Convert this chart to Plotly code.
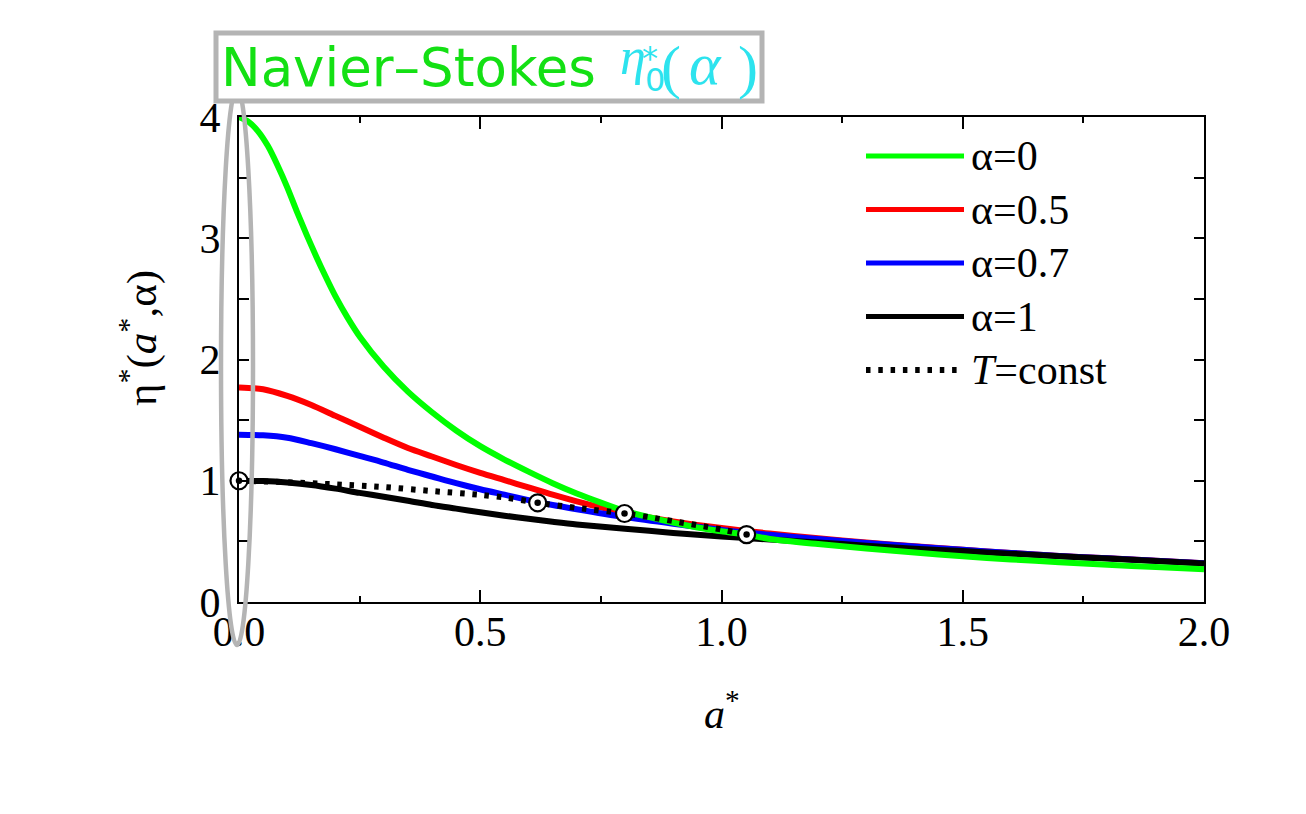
import plotly.graph_objects as go

# ---------------- data ----------------
a_alpha0 = [0, 0.02, 0.04, 0.06, 0.08, 0.10, 0.12, 0.14, 0.16, 0.18, 0.20, 0.225, 0.25, 0.30, 0.35, 0.40, 0.45,
            0.50, 0.55, 0.60, 0.65, 0.70, 0.75, 0.80, 0.85, 0.90, 0.95, 1.0, 1.05, 1.1, 1.2, 1.3, 1.4, 1.5, 1.6,
            1.7, 1.8, 1.9, 2.0]
eta_alpha0 = [4.0, 3.96, 3.88, 3.76, 3.60, 3.42, 3.22, 3.03, 2.85, 2.68, 2.52, 2.345, 2.19, 1.94, 1.735, 1.565,
              1.415, 1.285, 1.175, 1.075, 0.98, 0.895, 0.82, 0.75, 0.70, 0.655, 0.615, 0.583, 0.556, 0.52, 0.478,
              0.442, 0.408, 0.377, 0.351, 0.328, 0.307, 0.288, 0.27]

a_alpha05 = [0, 0.05, 0.1, 0.15, 0.2, 0.25, 0.3, 0.35, 0.4, 0.45, 0.5, 0.55, 0.6, 0.65, 0.7, 0.75, 0.8, 0.9, 1.0,
             1.1, 1.2, 1.3, 1.4, 1.5, 1.6, 1.7, 1.8, 1.9, 2.0]
eta_alpha05 = [1.77, 1.755, 1.70, 1.625, 1.535, 1.445, 1.355, 1.27, 1.20, 1.13, 1.065, 1.005, 0.945, 0.885, 0.83,
               0.78, 0.735, 0.665, 0.61, 0.565, 0.525, 0.49, 0.46, 0.43, 0.405, 0.38, 0.36, 0.34, 0.32]

a_alpha07 = [0, 0.05, 0.1, 0.15, 0.2, 0.25, 0.3, 0.35, 0.4, 0.45, 0.5, 0.55, 0.6, 0.65, 0.7, 0.8, 0.9, 1.0, 1.1,
             1.2, 1.3, 1.4, 1.5, 1.6, 1.7, 1.8, 1.9, 2.0]
eta_alpha07 = [1.38, 1.375, 1.355, 1.31, 1.26, 1.205, 1.15, 1.09, 1.035, 0.98, 0.93, 0.885, 0.84, 0.80, 0.765, 0.70,
               0.645, 0.595, 0.555, 0.52, 0.487, 0.457, 0.43, 0.405, 0.38, 0.36, 0.34, 0.32]

a_alpha1 = [0, 0.05, 0.1, 0.15, 0.2, 0.25, 0.3, 0.35, 0.4, 0.45, 0.5, 0.55, 0.6, 0.65, 0.7, 0.8, 0.9, 1.0, 1.1,
            1.2, 1.3, 1.4, 1.5, 1.6, 1.7, 1.8, 1.9, 2.0]
eta_alpha1 = [1.0, 0.997, 0.985, 0.965, 0.935, 0.90, 0.868, 0.835, 0.80, 0.77, 0.74, 0.712, 0.686, 0.662, 0.64,
              0.605, 0.57, 0.54, 0.515, 0.49, 0.465, 0.44, 0.42, 0.398, 0.378, 0.358, 0.338, 0.317]

a_Tconst = [0, 0.1, 0.2, 0.3, 0.4, 0.5, 0.55, 0.6, 0.62, 0.7, 0.8, 0.85, 0.9, 0.95, 1.0, 1.052]
eta_Tconst = [1.0, 0.988, 0.97, 0.948, 0.915, 0.884, 0.862, 0.832, 0.818, 0.776, 0.73, 0.70, 0.667, 0.633, 0.598, 0.556]

a_marks = [0, 0.619, 0.799, 1.052]
eta_marks = [1.0, 0.818, 0.73, 0.556]

x_tickvals = [0, 0.5, 1.0, 1.5, 2.0]
x_ticktext = ["0.0", "0.5", "1.0", "1.5", "2.0"]
y_tickvals = [0, 1, 2, 3, 4]
y_ticktext = ["0", "1", "2", "3", "4"]

legend_labels = ["α=0", "α=0.5", "α=0.7", "α=1", "<i>T</i>=const"]
legend_colors = ["#00ff00", "#ff0000", "#0000ff", "#000000", "#000000"]
legend_dash = ["solid", "solid", "solid", "solid", "4.5px,7.8px"]

# ---------------- layout geometry ----------------
# the page body adds an 8 px offset; helpers take reference screen pixels
OFF = 8
W, H = 1298, 806
L, T = 231, 109
R = W - 1196
B = H - 594
PW, PH = W - L - R, H - T - B


def px(sx):
    return (sx - OFF - L) / PW


def py(sy):
    return (H - B - (sy - OFF)) / PH


SERIF = "Liberation Serif"
LW = 6
CYAN = "#2de3ee"

fig = go.Figure()
series = [
    (a_alpha05, eta_alpha05, "#ff0000"),
    (a_alpha07, eta_alpha07, "#0000ff"),
    (a_alpha1, eta_alpha1, "#000000"),
    (a_alpha0, eta_alpha0, "#00ff00"),
]
for xs, ys, c in series:
    fig.add_trace(go.Scatter(x=xs, y=ys, mode="lines", line=dict(color=c, width=LW, shape="spline", smoothing=0.8),
                             showlegend=False, hoverinfo="skip"))
fig.add_trace(go.Scatter(x=a_Tconst, y=eta_Tconst, mode="lines",
                         line=dict(color="black", width=6, dash="4.5px,7.8px", shape="spline", smoothing=0.8),
                         showlegend=False, hoverinfo="skip"))
fig.add_trace(go.Scatter(x=a_marks, y=eta_marks, mode="markers", cliponaxis=False,
                         marker=dict(size=17, color="white", line=dict(color="black", width=2.2)),
                         showlegend=False, hoverinfo="skip"))
fig.add_trace(go.Scatter(x=a_marks, y=eta_marks, mode="markers", cliponaxis=False,
                         marker=dict(size=6.5, color="black"),
                         showlegend=False, hoverinfo="skip"))

shapes = []
# gray ellipse around a*=0
shapes.append(dict(type="circle", xref="paper", yref="paper", x0=px(221), x1=px(253), y0=py(645), y1=py(88),
                   line=dict(color="#b4b4b4", width=4.5), layer="above"))
# title box
shapes.append(dict(type="rect", xref="paper", yref="paper", x0=px(216), x1=px(762), y0=py(101), y1=py(33),
                   fillcolor="white", line=dict(color="#b4b4b4", width=5), layer="above"))

annotations = []
# custom legend
for i, (lab, col, dsh) in enumerate(zip(legend_labels, legend_colors, legend_dash)):
    yy = 156 + i * 53.5
    shapes.append(dict(type="line", xref="paper", yref="paper", x0=px(866), x1=px(964), y0=py(yy), y1=py(yy),
                       line=dict(color=col, width=5 if dsh == "solid" else 6, dash=dsh), layer="above"))
    annotations.append(dict(text=lab, xref="paper", yref="paper", x=px(969), y=py(yy), xanchor="left",
                            yanchor="middle", showarrow=False, font=dict(family=SERIF, size=42, color="black")))


def ann(text, sx, sy, size, color, family, xanchor="center"):
    annotations.append(dict(text=text, xref="paper", yref="paper", x=px(sx), y=py(sy), xanchor=xanchor,
                            yanchor="middle", showarrow=False, font=dict(family=family, size=size, color=color)))


# title text
ann("Navier–Stokes", 219, 68, 53, "#14e014", "DejaVu Sans", xanchor="left")
ann("<i>η</i>", 633, 56, 52, CYAN, SERIF)
ann("*", 650, 58, 32, CYAN, "DejaVu Sans")
ann("0", 655, 80, 32, CYAN, "DejaVu Sans")
ann("(", 671, 67, 60, CYAN, SERIF)
ann("<i>α</i>", 705, 64, 60, CYAN, SERIF)
ann(")", 748, 67, 60, CYAN, SERIF)

# axis titles
ann("<i>a</i><sup>*</sup>", 722, 710, 42, "black", SERIF)
annotations.append(dict(text="η<sup>*</sup>(<i>a</i><sup>*</sup>,α)", xref="paper", yref="paper", x=px(138),
                        y=py(338), xanchor="center", yanchor="middle", textangle=-90, showarrow=False,
                        font=dict(family=SERIF, size=43, color="black")))

fig.update_layout(
    width=W, height=H, margin=dict(l=L, r=R, t=T, b=B),
    paper_bgcolor="white", plot_bgcolor="white",
    shapes=shapes, annotations=annotations, showlegend=False,
    xaxis=dict(range=[0, 2], tickvals=x_tickvals, ticktext=x_ticktext, ticks="inside", ticklen=12, tickwidth=2,
               tickcolor="black", showline=True, linecolor="black", linewidth=2, mirror="ticks",
               showgrid=False, zeroline=False, tickfont=dict(family=SERIF, size=42, color="black"),
               ticklabelstandoff=-8,
               minor=dict(dtick=0.25, ticks="inside", ticklen=6, tickwidth=2, tickcolor="black", showgrid=False)),
    yaxis=dict(range=[0, 4], tickvals=y_tickvals, ticktext=y_ticktext, ticks="inside", ticklen=10, tickwidth=2,
               tickcolor="black", showline=True, linecolor="black", linewidth=2, mirror="ticks",
               showgrid=False, zeroline=False, tickfont=dict(family=SERIF, size=42, color="black"),
               ticklabelstandoff=8,
               minor=dict(dtick=0.5, ticks="inside", ticklen=10, tickwidth=2, tickcolor="black", showgrid=False)),
)

fig.write_html("out.html")
